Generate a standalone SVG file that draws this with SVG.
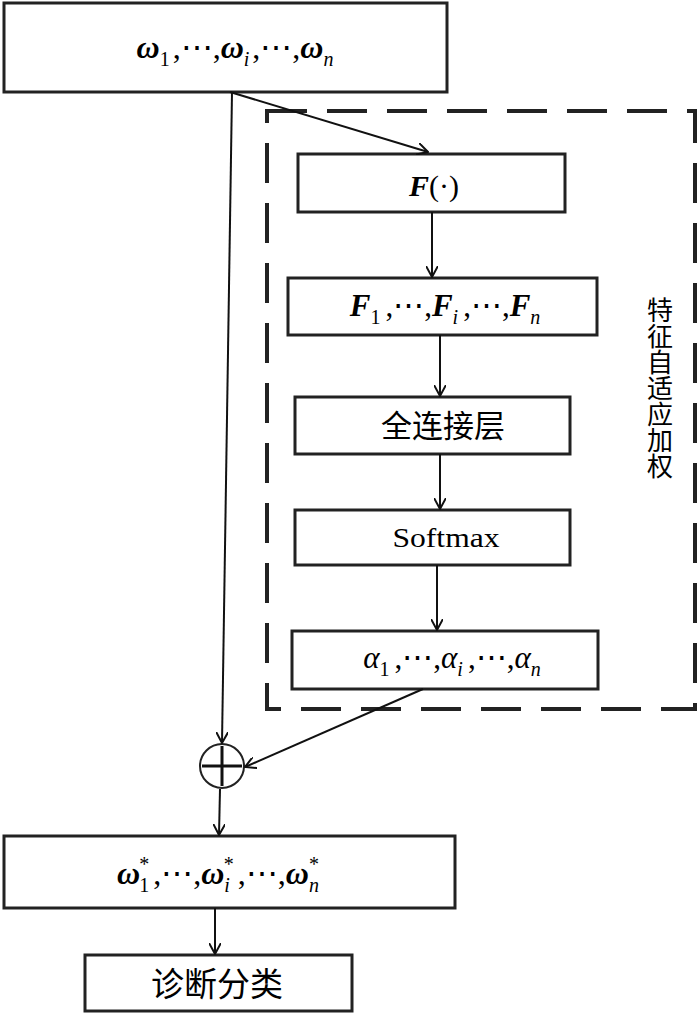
<svg xmlns="http://www.w3.org/2000/svg" width="700" height="1014" viewBox="0 0 700 1014">
<style>
.box{fill:#fff;stroke:#222;stroke-width:3}
.ln{stroke:#111;stroke-width:2;fill:none}
.t{font-family:"Liberation Serif","DejaVu Serif",serif;fill:#000;text-anchor:middle}
.cjk{font-family:"Liberation Serif","Noto Sans CJK SC",serif;fill:#000;text-anchor:middle}
.bi{font-weight:bold;font-style:italic}
.it{font-style:italic}
</style>
<defs>
<marker id="ar" viewBox="0 0 12 12" refX="11" refY="6" markerWidth="12" markerHeight="12" markerUnits="userSpaceOnUse" orient="auto">
<path d="M0,0 L11,6 L0,12" fill="none" stroke="#111" stroke-width="2"/>
</marker>
</defs>
<rect id="group" x="267" y="111" width="428" height="598" fill="none" stroke="#222" stroke-width="4" stroke-dasharray="40,20"/>
<g id="n_input"><rect class="box" x="4" y="3" width="443" height="89"/>
<text class="t" x="235" y="58" font-size="32"><tspan class="bi">ω</tspan><tspan font-size="20" dy="8">1</tspan><tspan dx="3" dy="-8">,⋯,</tspan><tspan class="bi">ω</tspan><tspan class="it" font-size="20" dy="8">i</tspan><tspan dx="3" dy="-8">,⋯,</tspan><tspan class="bi">ω</tspan><tspan class="it" font-size="20" dy="8">n</tspan></text></g>
<g id="n_F"><rect class="box" x="298" y="154" width="267" height="58"/>
<text class="t" x="434" y="196" font-size="30"><tspan class="bi">F</tspan><tspan>(·)</tspan></text></g>
<g id="n_Fs"><rect class="box" x="288" y="278" width="309" height="57"/>
<text class="t" x="445" y="316" font-size="31"><tspan class="bi">F</tspan><tspan font-size="20" dy="8">1</tspan><tspan dx="5" dy="-8">,⋯,</tspan><tspan class="bi">F</tspan><tspan class="it" font-size="20" dy="8">i</tspan><tspan dx="5" dy="-8">,⋯,</tspan><tspan class="bi">F</tspan><tspan class="it" font-size="20" dy="8">n</tspan></text></g>
<g id="n_fc"><rect class="box" x="295" y="397" width="275" height="57"/>
<text class="cjk" x="443" y="437" font-size="31">全连接层</text></g>
<g id="n_sm"><rect class="box" x="295" y="510" width="275" height="55"/>
<text class="t" x="446" y="547" font-size="28" textLength="107" lengthAdjust="spacingAndGlyphs">Softmax</text></g>
<g id="n_alpha"><rect class="box" x="292" y="631" width="306" height="58"/>
<text class="t" x="452" y="668" font-size="31"><tspan class="it">α</tspan><tspan font-size="20" dy="8">1</tspan><tspan dx="5" dy="-8">,⋯,</tspan><tspan class="it">α</tspan><tspan class="it" font-size="20" dy="8">i</tspan><tspan dx="5" dy="-8">,⋯,</tspan><tspan class="it">α</tspan><tspan class="it" font-size="20" dy="8">n</tspan></text></g>
<g id="n_label"><text class="cjk" font-size="26" x="657" y="297" writing-mode="tb" style="text-anchor:start">特征自适应加权</text></g>
<g id="n_sum"><circle cx="222" cy="766" r="22" fill="#fff" stroke="#222" stroke-width="2"/>
<path d="M202,766 H242 M222,746 V786" stroke="#111" stroke-width="3"/></g>
<g id="n_out"><rect class="box" x="4" y="836" width="451" height="72"/>
<text class="t" x="218" y="884" font-size="32"><tspan class="bi">ω</tspan><tspan font-size="20" dx="-1" dy="8">1</tspan><tspan font-size="20" dx="-10" dy="-21">*</tspan><tspan dx="4" dy="13">,⋯,</tspan><tspan class="bi">ω</tspan><tspan class="it" font-size="20" dy="8">i</tspan><tspan font-size="20" dx="-6" dy="-21">*</tspan><tspan dx="4" dy="13">,⋯,</tspan><tspan class="bi">ω</tspan><tspan class="it" font-size="20" dy="8">n</tspan><tspan font-size="20" dx="-10" dy="-21">*</tspan></text></g>
<g id="n_cls"><rect class="box" x="85" y="955" width="267" height="56"/>
<text class="cjk" x="217" y="996" font-size="33">诊断分类</text></g>
<g id="connectors">
<line class="ln" x1="230" y1="92" x2="428" y2="152" marker-end="url(#ar)"/>
<line class="ln" x1="232" y1="92" x2="222" y2="743" marker-end="url(#ar)"/>
<line class="ln" x1="432" y1="212" x2="432" y2="277" marker-end="url(#ar)"/>
<line class="ln" x1="440" y1="335" x2="440" y2="396" marker-end="url(#ar)"/>
<line class="ln" x1="440" y1="454" x2="440" y2="509" marker-end="url(#ar)"/>
<line class="ln" x1="437" y1="565" x2="437" y2="630" marker-end="url(#ar)"/>
<line class="ln" x1="423" y1="689" x2="245" y2="767" marker-end="url(#ar)"/>
<line class="ln" x1="220" y1="789" x2="219" y2="835" marker-end="url(#ar)"/>
<line class="ln" x1="215" y1="908" x2="215" y2="954" marker-end="url(#ar)"/>
</g>
</svg>
